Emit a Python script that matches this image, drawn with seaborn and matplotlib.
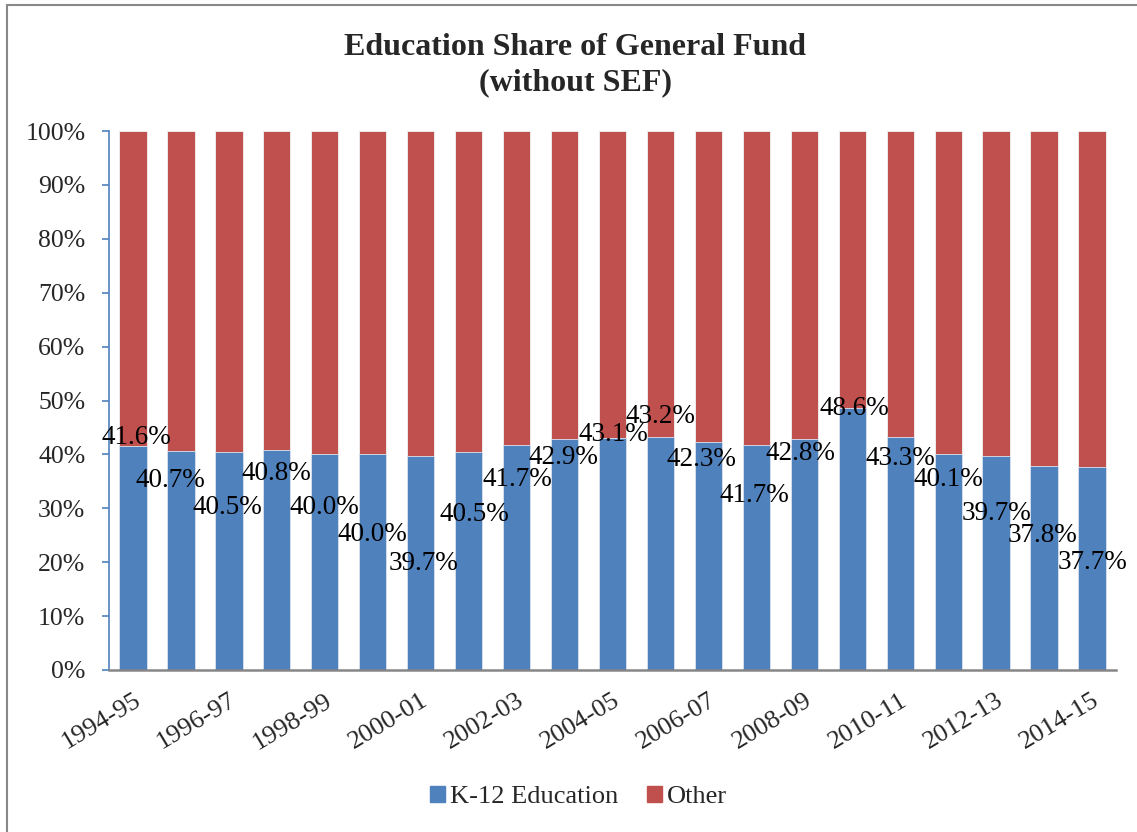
import matplotlib
matplotlib.use("Agg")
import matplotlib.pyplot as plt
import matplotlib.transforms as mtransforms
from matplotlib.patches import Patch, Rectangle
import seaborn as sns
import pandas as pd

# Fiscal years and K-12 share of the general fund (percent)
years = ["1994-95", "1995-96", "1996-97", "1997-98", "1998-99", "1999-00",
         "2000-01", "2001-02", "2002-03", "2003-04", "2004-05", "2005-06",
         "2006-07", "2007-08", "2008-09", "2009-10", "2010-11", "2011-12",
         "2012-13", "2013-14", "2014-15"]
k12_share = [41.6, 40.7, 40.5, 40.8, 40.0, 40.0, 39.7, 40.5, 41.7, 42.9, 43.1,
             43.2, 42.3, 41.7, 42.8, 48.6, 43.3, 40.1, 39.7, 37.8, 37.7]
other_share = [round(100 - v, 1) for v in k12_share]
series_names = ["K-12 Education", "Other"]
y_tick_values = [0, 10, 20, 30, 40, 50, 60, 70, 80, 90, 100]
y_tick_labels = [f"{v}%" for v in y_tick_values]

# Label placement (offsets from each bar top: category units, percentage points)
label_dx = [0.08, -0.23, -0.04, 0.0, 0.0, 0.0, 0.06, 0.12, 0.02, -0.02, 0.02,
            0.0, -0.15, -0.04, -0.08, 0.04, 0.0, 0.0, 0.0, -0.04, 0.02]
label_dy = [1.6, -5.6, -10.4, -4.3, -9.9, -14.8, -20.0, -11.6, -6.4, -3.4, 0.5,
            3.9, -3.2, -9.4, -2.7, 0.0, -4.0, -4.8, -10.6, -12.8, -17.7]

BLUE = "#4F81BD"
RED = "#C0504D"

sns.set_theme(style="white")
plt.rcParams["font.family"] = ["Liberation Serif", "DejaVu Serif"]

df = pd.DataFrame({"year": years, "k12": k12_share, "other": other_share})
df["total"] = df["k12"] + df["other"]

fig = plt.figure(figsize=(11.37, 8.32), dpi=100)
ax = fig.add_axes([109 / 1137, 162 / 832, 1007 / 1137, 539 / 832])

# Stacked bars: full-height "Other" first, K-12 drawn over it
sns.barplot(data=df, x="year", y="total", color=RED, width=0.57, ax=ax,
            saturation=1, edgecolor="#f2f2f2", linewidth=0.6)
sns.barplot(data=df, x="year", y="k12", color=BLUE, width=0.57, ax=ax,
            saturation=1, edgecolor="#dbe5f1", linewidth=0.6)

for i, v in enumerate(k12_share):
    ax.text(i + label_dx[i], v + label_dy[i], f"{v:.1f}%", ha="center",
            va="center", fontsize=19.5, color="black")

ax.set_xlim(-0.5, len(years) - 0.5)
ax.set_ylim(0, 100)
ax.set_yticks(y_tick_values)
ax.set_yticklabels(y_tick_labels, fontsize=18.5)
ax.set_xticks(range(len(years)))
ax.set_xticklabels([y if i % 2 == 0 else "" for i, y in enumerate(years)],
                   rotation=31, ha="right", rotation_mode="anchor", fontsize=19)
shift = mtransforms.ScaledTranslation(-5 / 100, -2 / 100, fig.dpi_scale_trans)
for lbl in ax.get_xticklabels():
    lbl.set_transform(lbl.get_transform() + shift)
ax.set_xlabel("")
ax.set_ylabel("")

ax.tick_params(axis="y", which="major", length=5, width=1.2, color=BLUE,
               direction="out", pad=12, left=True)
ax.tick_params(axis="x", which="major", length=0, pad=14)
for side in ("top", "right"):
    ax.spines[side].set_visible(False)
ax.spines["left"].set_color(BLUE)
ax.spines["left"].set_linewidth(1.2)
ax.spines["bottom"].set_color("#868686")
ax.spines["bottom"].set_linewidth(1.8)

fig.text(0.506, 1 - 65 / 832, "Education Share of General Fund\n(without SEF)",
         ha="center", va="center", fontsize=23, fontweight="bold",
         linespacing=1.25)

handles = [Patch(facecolor=BLUE, edgecolor=BLUE, label=series_names[0]),
           Patch(facecolor=RED, edgecolor=RED, label=series_names[1])]
fig.legend(handles=handles, loc="center", bbox_to_anchor=(0.509, 1 - 797 / 832),
           ncol=2, frameon=False, fontsize=19, handlelength=0.55,
           handleheight=0.55, handletextpad=0.2, columnspacing=1.1)

# Chart-area border
fig.patches.append(Rectangle((7 / 1137, -0.02), 1.1, 1 - 5 / 832 + 0.02,
                             transform=fig.transFigure, fill=False,
                             edgecolor="#888888", linewidth=1.5))

fig.savefig("out.png", dpi=100)
